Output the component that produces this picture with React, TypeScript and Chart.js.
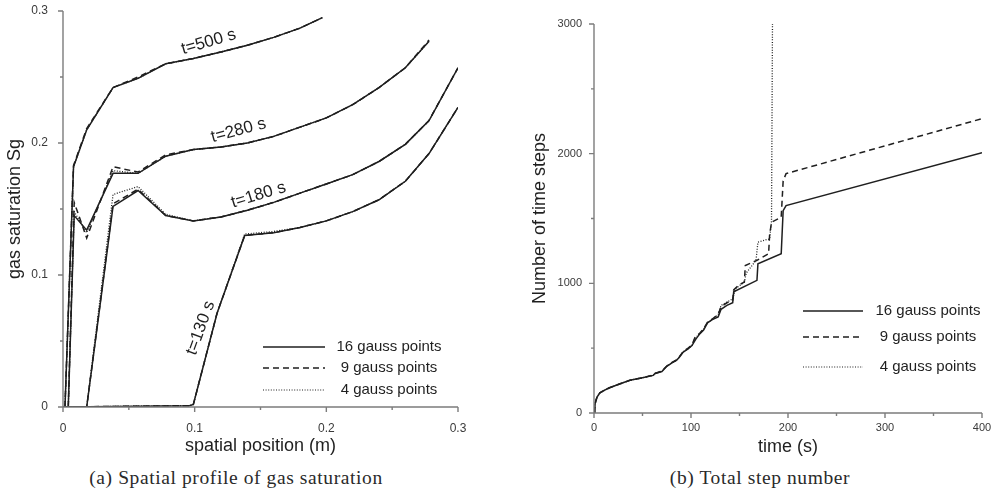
import React, { useEffect, useRef } from "react";
import { Chart, registerables } from "chart.js";

Chart.register(...registerables);

const INK = "#1f1f1f";
const AXIS = "#7c7c7c";
const TICK_TEXT = "#3a3a3a";
const SANS = "'Liberation Sans', Arial, Helvetica, sans-serif";
const SERIF = "'Liberation Serif', 'Times New Roman', serif";

// ---------------- (a) spatial profile of gas saturation ----------------
const xTicksA = [0, 0.1, 0.2, 0.3];
const xTickLabelsA = ["0", "0.1", "0.2", "0.3"];
const xMinorA = [0.05, 0.15, 0.25];
const yTicksA = [0, 0.1, 0.2, 0.3];
const yTickLabelsA = ["0", "0.1", "0.2", "0.3"];
const yMinorA = [0.05, 0.15, 0.25];

const posT500 = [0.0015, 0.008, 0.018, 0.038, 0.057, 0.078, 0.099, 0.12, 0.14, 0.16, 0.18, 0.197];
const sgT500g16 = [0, 0.182, 0.21, 0.242, 0.249, 0.26, 0.264, 0.269, 0.274, 0.28, 0.287, 0.295];
const sgT500g9 = [0, 0.183, 0.211, 0.242, 0.25, 0.26, 0.264, 0.269, 0.274, 0.28, 0.287, 0.295];
const sgT500g4 = [0, 0.182, 0.21, 0.242, 0.249, 0.26, 0.264, 0.269, 0.274, 0.28, 0.287, 0.295];

const posT280 = [0.004, 0.0085, 0.018, 0.038, 0.057, 0.078, 0.099, 0.12, 0.14, 0.16, 0.18, 0.2, 0.22, 0.24, 0.26, 0.278];
const sgT280g16 = [0, 0.145, 0.134, 0.177, 0.177, 0.19, 0.195, 0.197, 0.2, 0.205, 0.212, 0.219, 0.229, 0.242, 0.257, 0.277];
const sgT280g9 = [0, 0.155, 0.128, 0.182, 0.178, 0.191, 0.195, 0.197, 0.2, 0.205, 0.212, 0.219, 0.229, 0.242, 0.257, 0.278];
const sgT280g4 = [0, 0.148, 0.132, 0.179, 0.177, 0.19, 0.195, 0.197, 0.2, 0.205, 0.212, 0.219, 0.229, 0.242, 0.257, 0.277];

const posT180 = [0, 0.018, 0.038, 0.057, 0.078, 0.099, 0.12, 0.14, 0.16, 0.18, 0.2, 0.22, 0.24, 0.26, 0.278, 0.3];
const sgT180g16 = [0, 0, 0.152, 0.164, 0.145, 0.141, 0.144, 0.149, 0.155, 0.162, 0.169, 0.176, 0.186, 0.199, 0.217, 0.257];
const sgT180g9 = [0, 0, 0.154, 0.165, 0.145, 0.141, 0.144, 0.149, 0.155, 0.162, 0.169, 0.176, 0.186, 0.199, 0.217, 0.257];
const sgT180g4 = [0, 0, 0.161, 0.167, 0.146, 0.141, 0.144, 0.149, 0.155, 0.162, 0.169, 0.176, 0.186, 0.199, 0.217, 0.257];

const posT130 = [0, 0.096, 0.099, 0.117, 0.138, 0.16, 0.18, 0.2, 0.22, 0.24, 0.26, 0.278, 0.3];
const sgT130g16 = [0, 0.001, 0.002, 0.071, 0.13, 0.132, 0.136, 0.141, 0.148, 0.157, 0.171, 0.192, 0.227];
const sgT130g9 = [0, 0.001, 0.002, 0.071, 0.13, 0.132, 0.136, 0.141, 0.148, 0.157, 0.171, 0.192, 0.227];
const sgT130g4 = [0, 0.001, 0.002, 0.071, 0.131, 0.133, 0.136, 0.141, 0.148, 0.157, 0.171, 0.192, 0.227];

const curveLabelTexts = ["t=500 s", "t=280 s", "t=180 s", "t=130 s"];
const curveLabelX = [0.1106, 0.1333, 0.1485, 0.1045];
const curveLabelY = [0.2765, 0.2095, 0.1605, 0.0598];
const curveLabelAngle = [-16, -15, -17, -70];

// ---------------- (b) total step number ----------------
const xTicksB = [0, 100, 200, 300, 400];
const xTickLabelsB = ["0", "100", "200", "300", "400"];
const xMinorB = [50, 150, 250, 350];
const yTicksB = [0, 1000, 2000, 3000];
const yTickLabelsB = ["0", "1000", "2000", "3000"];
const yMinorB = [500, 1500, 2500];

const timeG16 = [0, 1, 3, 6, 10, 16, 27, 37, 50, 61, 63, 70, 75, 80, 85, 88, 92, 97, 101, 105, 109, 113, 117, 122, 128, 131, 137, 143, 144, 168, 169, 193, 195, 198, 400];
const stepsG16 = [0, 70, 120, 155, 172, 195, 225, 252, 272, 290, 305, 320, 360, 385, 405, 430, 470, 495, 520, 570, 610, 640, 695, 720, 740, 800, 830, 850, 935, 1023, 1151, 1228, 1560, 1600, 2008];

const timeG9 = [0, 1, 3, 6, 10, 16, 27, 37, 50, 61, 63, 70, 75, 80, 85, 88, 92, 97, 101, 104, 109, 113, 117, 122, 128, 131, 137, 143, 144, 150, 155, 156, 168, 180, 181, 183, 193, 195, 198, 400];
const stepsG9 = [0, 70, 120, 155, 172, 195, 225, 252, 272, 292, 305, 325, 362, 388, 410, 435, 475, 500, 525, 580, 615, 650, 700, 725, 760, 820, 850, 870, 950, 990, 1010, 1138, 1177, 1228, 1369, 1472, 1510, 1790, 1846, 2270];

const timeG4 = [0, 1, 3, 6, 10, 16, 27, 37, 50, 61, 63, 70, 75, 80, 85, 88, 92, 97, 101, 104, 109, 113, 117, 122, 128, 131, 137, 143, 146, 155, 157, 167, 169, 181, 183, 184];
const stepsG4 = [0, 70, 120, 155, 172, 195, 225, 252, 272, 291, 305, 322, 360, 386, 407, 432, 472, 497, 522, 575, 612, 645, 698, 722, 755, 830, 855, 880, 960, 1010, 1080, 1177, 1318, 1343, 1480, 3000];

const legendLabels = ["16 gauss points", "9 gauss points", "4 gauss points"];
const DASH_SOLID: number[] = [];
const DASH_DASHED = [6, 4];
const DASH_DOTTED = [1, 1.6];
const legendDashes = [DASH_SOLID, DASH_DASHED, DASH_DOTTED];

const pts = (xs: number[], ys: number[]) => xs.map((x, i) => ({ x, y: ys[i] }));

function lineDs(label: string, data: { x: number; y: number }[], dash: number[]) {
  return {
    label,
    data,
    borderColor: INK,
    backgroundColor: INK,
    borderWidth: dash === DASH_DOTTED ? 1.3 : 1.5,
    borderDash: dash,
    pointRadius: 0,
    tension: 0,
    fill: false,
  };
}

function axesPlugin(xMajor: number[], xMinor: number[], yMajor: number[], yMinor: number[]) {
  return {
    id: "paperAxes",
    afterDraw(chart: any) {
      const { ctx, chartArea: a, scales } = chart;
      const xs = scales.x;
      const ys = scales.y;
      ctx.save();
      ctx.strokeStyle = AXIS;
      ctx.lineWidth = 1.4;
      ctx.beginPath();
      ctx.moveTo(a.left, a.top);
      ctx.lineTo(a.left, a.bottom);
      ctx.moveTo(a.left, a.bottom);
      ctx.lineTo(a.right, a.bottom);
      xMajor.forEach((v) => {
        const p = xs.getPixelForValue(v);
        ctx.moveTo(p, a.bottom);
        ctx.lineTo(p, a.bottom + 5);
      });
      xMinor.forEach((v) => {
        const p = xs.getPixelForValue(v);
        ctx.moveTo(p, a.bottom);
        ctx.lineTo(p, a.bottom + 3);
      });
      yMajor.forEach((v) => {
        const p = ys.getPixelForValue(v);
        ctx.moveTo(a.left, p);
        ctx.lineTo(a.left - 5, p);
      });
      yMinor.forEach((v) => {
        const p = ys.getPixelForValue(v);
        ctx.moveTo(a.left, p);
        ctx.lineTo(a.left - 3, p);
      });
      ctx.stroke();
      ctx.restore();
    },
  };
}

function legendPlugin(lineX0: number, lineX1: number, textCenter: number, rowsY: number[]) {
  return {
    id: "paperLegend",
    afterDraw(chart: any) {
      const { ctx } = chart;
      ctx.save();
      legendLabels.forEach((label, i) => {
        const y = rowsY[i];
        ctx.strokeStyle = INK;
        ctx.lineWidth = i === 2 ? 1.1 : 1.3;
        ctx.setLineDash(legendDashes[i]);
        ctx.beginPath();
        ctx.moveTo(lineX0, y);
        ctx.lineTo(lineX1, y);
        ctx.stroke();
        ctx.setLineDash([]);
        ctx.fillStyle = INK;
        ctx.font = `15px ${SANS}`;
        ctx.textAlign = "center";
        ctx.textBaseline = "middle";
        ctx.fillText(label, textCenter, y);
      });
      ctx.restore();
    },
  };
}

const curveLabelPlugin = {
  id: "curveLabels",
  afterDatasetsDraw(chart: any) {
    const { ctx, scales } = chart;
    ctx.save();
    ctx.fillStyle = INK;
    ctx.font = `17px ${SANS}`;
    ctx.textAlign = "center";
    ctx.textBaseline = "middle";
    curveLabelTexts.forEach((t, i) => {
      ctx.save();
      ctx.translate(scales.x.getPixelForValue(curveLabelX[i]), scales.y.getPixelForValue(curveLabelY[i]));
      ctx.rotate((curveLabelAngle[i] * Math.PI) / 180);
      ctx.fillText(t, 0, 0);
      ctx.restore();
    });
    ctx.restore();
  },
};

function scaleCfg(opts: {
  min: number;
  max: number;
  ticks: number[];
  labels: string[];
  fontSize: number;
  pad: number;
  title: string;
  titlePad: any;
  fit: (s: any) => void;
}) {
  return {
    type: "linear",
    min: opts.min,
    max: opts.max,
    border: { display: false },
    grid: { display: false, drawTicks: false },
    afterBuildTicks: (s: any) => {
      s.ticks = opts.ticks.map((value) => ({ value }));
    },
    afterFit: opts.fit,
    ticks: {
      autoSkip: false,
      maxRotation: 0,
      minRotation: 0,
      padding: opts.pad,
      color: TICK_TEXT,
      font: { family: SANS, size: opts.fontSize },
      callback: (_v: any, i: number) => opts.labels[i],
    },
    title: {
      display: true,
      text: opts.title,
      color: INK,
      font: { family: SANS, size: 18 },
      padding: opts.titlePad,
    },
  };
}

export default function App() {
  const leftRef = useRef<HTMLCanvasElement>(null);
  const rightRef = useRef<HTMLCanvasElement>(null);

  useEffect(() => {
    document.body.style.margin = "0";
    const curvesA = [
      { pos: posT500, g16: sgT500g16, g9: sgT500g9, g4: sgT500g4 },
      { pos: posT280, g16: sgT280g16, g9: sgT280g9, g4: sgT280g4 },
      { pos: posT180, g16: sgT180g16, g9: sgT180g9, g4: sgT180g4 },
      { pos: posT130, g16: sgT130g16, g9: sgT130g9, g4: sgT130g4 },
    ];
    const dsA: any[] = [];
    curvesA.forEach((c) => dsA.push(lineDs(legendLabels[2], pts(c.pos, c.g4), DASH_DOTTED)));
    curvesA.forEach((c) => dsA.push(lineDs(legendLabels[1], pts(c.pos, c.g9), DASH_DASHED)));
    curvesA.forEach((c) => dsA.push(lineDs(legendLabels[0], pts(c.pos, c.g16), DASH_SOLID)));

    const chartA = new Chart(leftRef.current as HTMLCanvasElement, {
      type: "line",
      data: { datasets: dsA },
      options: {
        animation: false,
        responsive: false,
        devicePixelRatio: 1,
        layout: { padding: { left: 0, top: 11, right: 37, bottom: 0 } },
        plugins: { legend: { display: false }, tooltip: { enabled: false } },
        scales: {
          x: scaleCfg({
            min: 0,
            max: 0.3,
            ticks: xTicksA,
            labels: xTickLabelsA,
            fontSize: 12,
            pad: 14,
            title: "spatial position (m)",
            titlePad: { top: 0, bottom: 8 },
            fit: (s: any) => {
              s.height = 58;
              s.paddingLeft = 0;
              s.paddingRight = 0;
            },
          }),
          y: scaleCfg({
            min: 0,
            max: 0.3,
            ticks: yTicksA,
            labels: yTickLabelsA,
            fontSize: 12,
            pad: 15,
            title: "gas saturation Sg",
            titlePad: { top: 4, bottom: 0 },
            fit: (s: any) => {
              s.width = 63;
              s.paddingTop = 0;
              s.paddingBottom = 0;
            },
          }),
        } as any,
      },
      plugins: [
        axesPlugin(xTicksA, xMinorA, yTicksA, yMinorA),
        curveLabelPlugin,
        legendPlugin(263, 325, 389, [347, 368, 390]),
      ],
    } as any);

    const dsB = [
      lineDs(legendLabels[2], pts(timeG4, stepsG4), DASH_DOTTED),
      lineDs(legendLabels[1], pts(timeG9, stepsG9), DASH_DASHED),
      lineDs(legendLabels[0], pts(timeG16, stepsG16), DASH_SOLID),
    ];
    const chartB = new Chart(rightRef.current as HTMLCanvasElement, {
      type: "line",
      data: { datasets: dsB },
      options: {
        animation: false,
        responsive: false,
        devicePixelRatio: 1,
        layout: { padding: { left: 0, top: 24, right: 9, bottom: 0 } },
        plugins: { legend: { display: false }, tooltip: { enabled: false } },
        scales: {
          x: scaleCfg({
            min: 0,
            max: 400,
            ticks: xTicksB,
            labels: xTickLabelsB,
            fontSize: 11,
            pad: 8,
            title: "time (s)",
            titlePad: { top: 0, bottom: 7 },
            fit: (s: any) => {
              s.height = 52;
              s.paddingLeft = 0;
              s.paddingRight = 0;
            },
          }),
          y: scaleCfg({
            min: 0,
            max: 3000,
            ticks: yTicksB,
            labels: yTickLabelsB,
            fontSize: 11,
            pad: 12,
            title: "Number of time steps",
            titlePad: { top: 34, bottom: 0 },
            fit: (s: any) => {
              s.width = 99;
              s.paddingTop = 0;
              s.paddingBottom = 0;
            },
          }),
        } as any,
      },
      plugins: [axesPlugin(xTicksB, xMinorB, yTicksB, yMinorB), legendPlugin(308, 368, 433, [311, 337, 367])],
    } as any);

    return () => {
      chartA.destroy();
      chartB.destroy();
    };
  }, []);

  const captionStyle: React.CSSProperties = {
    position: "absolute",
    top: 467,
    height: 22,
    lineHeight: "22px",
    fontFamily: SERIF,
    fontSize: 19.5,
    letterSpacing: 0.6,
    color: "#2a2a2a",
    textAlign: "center",
    whiteSpace: "nowrap",
  };

  return (
    <div style={{ position: "absolute", left: 0, top: 0, width: 991, height: 489, background: "#fff", overflow: "hidden" }}>
      <canvas ref={leftRef} width={495} height={465} style={{ position: "absolute", left: 0, top: 0, width: 495, height: 465 }} />
      <canvas ref={rightRef} width={496} height={465} style={{ position: "absolute", left: 495, top: 0, width: 496, height: 465 }} />
      <div style={{ ...captionStyle, left: 36, width: 400 }}>(a) Spatial profile of gas saturation</div>
      <div style={{ ...captionStyle, left: 560, width: 400 }}>(b) Total step number</div>
    </div>
  );
}
